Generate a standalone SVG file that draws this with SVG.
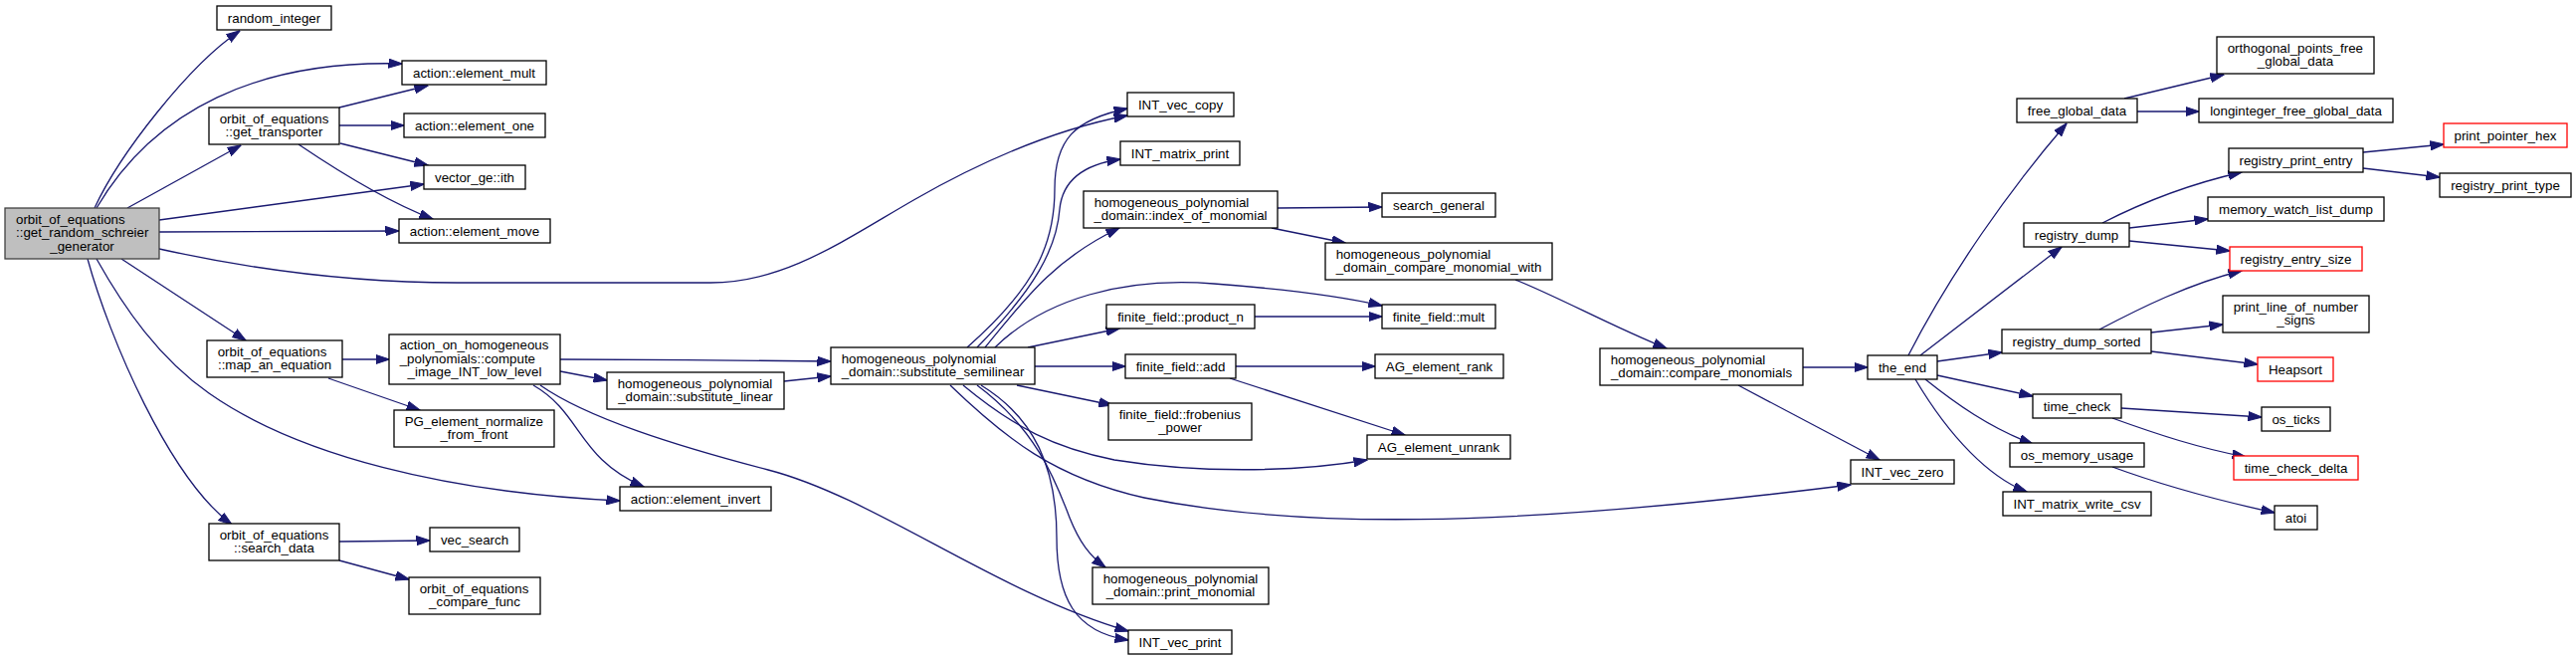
<svg xmlns="http://www.w3.org/2000/svg" width="2589" height="663" viewBox="0 0 2589 663">
<defs>
<style>
.n rect{fill:#fff;stroke:#000;stroke-width:1.3}
.n.r rect{stroke:#ff0000}
.n.m rect{fill:#bfbfbf;stroke:#404040}
text{font-family:"Liberation Sans",Arial,Helvetica,sans-serif;font-size:13.33px;fill:#000}
.c{text-anchor:middle}
.e path{fill:none;stroke:#191970;stroke-width:1.3;marker-end:url(#a)}
</style>
<marker id="a" markerUnits="userSpaceOnUse" viewBox="0 0 14 10" markerWidth="14" markerHeight="10" refX="13.5" refY="5" orient="auto"><path d="M0,0.4 L14,5 L0,9.6 z" fill="#191970" stroke="#191970" stroke-width="1"/></marker>
</defs>
<rect width="2589" height="663" fill="#fff"/>
<g class="e" id="edges">
<path d="M95,209 C120,155 190,65 241,31"/>
<path d="M97,209 C155,110 260,60 404,64"/>
<path d="M128,209 L242,146"/>
<path d="M160,221 L426,185"/>
<path d="M160,233 L401,232"/>
<path d="M160,250 C250,270 350,284 460,284 L714,284 C790,284 850,240 920,200 C990,160 1060,130 1133,116"/>
<path d="M122,260 L247,342"/>
<path d="M97,260 C125,310 160,360 210,395 C300,458 450,495 623,503"/>
<path d="M88,260 C110,340 170,480 233,527"/>
<path d="M341,108 L430,86"/>
<path d="M341,126 L406,126"/>
<path d="M342,144 L430,166"/>
<path d="M300,145 C340,172 390,203 435,220"/>
<path d="M344,361 L391,361"/>
<path d="M330,380 L422,412"/>
<path d="M341,544 L432,543"/>
<path d="M341,563 L411,582"/>
<path d="M563,361 C650,361 750,362 835,363"/>
<path d="M563,373 L610,382"/>
<path d="M536,387 C585,415 580,460 647,489"/>
<path d="M543,387 C590,420 680,448 772,472 C880,500 1000,595 1134,634"/>
<path d="M788,383 L835,378"/>
<path d="M972,349 C1045,285 1060,240 1060,190 C1060,140 1080,120 1133,109"/>
<path d="M982,349 C1040,290 1062,250 1065,210 C1068,180 1090,165 1126,160"/>
<path d="M990,349 C1030,300 1060,260 1125,229"/>
<path d="M1000,349 C1050,300 1130,278 1220,285 C1300,291 1350,298 1389,307"/>
<path d="M1033,349 L1125,330"/>
<path d="M1040,368 L1131,368"/>
<path d="M1022,387 L1118,407"/>
<path d="M968,387 C1020,430 1060,450 1120,462 C1200,475 1300,475 1374,462"/>
<path d="M955,387 C1010,440 1060,480 1150,500 C1300,530 1500,532 1860,487"/>
<path d="M982,387 C1040,430 1060,480 1075,520 C1085,545 1095,558 1111,570"/>
<path d="M986,387 C1040,420 1062,470 1062,540 C1062,600 1080,635 1134,643"/>
<path d="M1284,209 L1389,208"/>
<path d="M1278,229 L1352,244"/>
<path d="M1261,318 L1389,318"/>
<path d="M1242,368 L1382,368"/>
<path d="M1236,380 L1412,437"/>
<path d="M1523,281 C1570,300 1620,328 1675,350"/>
<path d="M1812,369 L1877,369"/>
<path d="M1747,387 L1889,462"/>
<path d="M1918,357 C1960,275 2020,190 2077,124"/>
<path d="M1930,357 L2072,248"/>
<path d="M1947,363 L2012,354"/>
<path d="M1947,377 L2043,398"/>
<path d="M1935,381 C1965,405 2000,430 2043,446"/>
<path d="M1925,381 C1960,440 2000,480 2037,494"/>
<path d="M2135,99 L2235,75"/>
<path d="M2148,112 L2210,112"/>
<path d="M2113,224 C2150,205 2200,185 2253,173"/>
<path d="M2140,229 L2219,220"/>
<path d="M2140,242 L2241,252"/>
<path d="M2375,153 L2456,145"/>
<path d="M2375,169 L2452,178"/>
<path d="M2110,331 C2150,310 2200,285 2253,272"/>
<path d="M2162,334 L2234,326"/>
<path d="M2162,353 L2269,366"/>
<path d="M2132,410 L2273,419"/>
<path d="M2123,420 C2170,437 2210,450 2257,459"/>
<path d="M2123,469 C2180,490 2240,505 2286,515"/>
</g>
<g id="main" class="n m"><rect x="5" y="209" width="155" height="51"/><text x="16" y="224.8">orbit_of_equations</text><text x="16" y="238.2">::get_random_schreier</text><text class="c" x="82.5" y="251.6">_generator</text></g>
<g id="random_integer" class="n"><rect x="218" y="6" width="115" height="24"/><text class="c" x="275.5" y="22.5">random_integer</text></g>
<g id="element_mult" class="n"><rect x="404" y="61" width="145" height="24"/><text class="c" x="476.5" y="77.5">action::element_mult</text></g>
<g id="get_transporter" class="n"><rect x="210" y="108" width="131" height="37"/><text x="220.7" y="123.8">orbit_of_equations</text><text class="c" x="275.5" y="137.2">::get_transporter</text></g>
<g id="element_one" class="n"><rect x="406" y="114" width="142" height="24"/><text class="c" x="477" y="130.5">action::element_one</text></g>
<g id="vector_ge_ith" class="n"><rect x="426" y="166" width="102" height="24"/><text class="c" x="477" y="182.5">vector_ge::ith</text></g>
<g id="element_move" class="n"><rect x="401" y="220" width="152" height="24"/><text class="c" x="477" y="236.5">action::element_move</text></g>
<g id="map_an_equation" class="n"><rect x="208" y="342" width="136" height="37"/><text x="218.7" y="357.8">orbit_of_equations</text><text class="c" x="276" y="371.2">::map_an_equation</text></g>
<g id="compute_image" class="n"><rect x="391" y="336" width="172" height="50"/><text x="401.7" y="351.3">action_on_homogeneous</text><text x="401.7" y="364.7">_polynomials::compute</text><text class="c" x="477" y="378.1">_image_INT_low_level</text></g>
<g id="pg_normalize" class="n"><rect x="396" y="412" width="161" height="37"/><text x="406.7" y="427.8">PG_element_normalize</text><text class="c" x="476.5" y="441.2">_from_front</text></g>
<g id="search_data" class="n"><rect x="210" y="526" width="131" height="37"/><text x="220.7" y="541.8">orbit_of_equations</text><text class="c" x="275.5" y="555.2">::search_data</text></g>
<g id="vec_search" class="n"><rect x="432" y="530" width="90" height="24"/><text class="c" x="477" y="546.5">vec_search</text></g>
<g id="compare_func" class="n"><rect x="411" y="580" width="132" height="37"/><text x="421.7" y="595.8">orbit_of_equations</text><text class="c" x="477" y="609.2">_compare_func</text></g>
<g id="substitute_linear" class="n"><rect x="610" y="374" width="178" height="37"/><text x="620.7" y="389.8">homogeneous_polynomial</text><text class="c" x="699" y="403.2">_domain::substitute_linear</text></g>
<g id="element_invert" class="n"><rect x="623" y="489" width="152" height="24"/><text class="c" x="699" y="505.5">action::element_invert</text></g>
<g id="substitute_semilinear" class="n"><rect x="835" y="349" width="205" height="37"/><text x="845.7" y="364.8">homogeneous_polynomial</text><text class="c" x="937.5" y="378.2">_domain::substitute_semilinear</text></g>
<g id="int_vec_copy" class="n"><rect x="1133" y="93" width="107" height="24"/><text class="c" x="1186.5" y="109.5">INT_vec_copy</text></g>
<g id="int_matrix_print" class="n"><rect x="1126" y="142" width="120" height="24"/><text class="c" x="1186" y="158.5">INT_matrix_print</text></g>
<g id="index_of_monomial" class="n"><rect x="1089" y="192" width="195" height="37"/><text x="1099.7" y="207.8">homogeneous_polynomial</text><text class="c" x="1186.5" y="221.2">_domain::index_of_monomial</text></g>
<g id="product_n" class="n"><rect x="1112" y="306" width="149" height="24"/><text class="c" x="1186.5" y="322.5">finite_field::product_n</text></g>
<g id="ff_add" class="n"><rect x="1131" y="356" width="111" height="24"/><text class="c" x="1186.5" y="372.5">finite_field::add</text></g>
<g id="frobenius" class="n"><rect x="1114" y="405" width="144" height="37"/><text x="1124.7" y="420.8">finite_field::frobenius</text><text class="c" x="1186" y="434.2">_power</text></g>
<g id="print_monomial" class="n"><rect x="1098" y="570" width="177" height="37"/><text x="1108.7" y="585.8">homogeneous_polynomial</text><text class="c" x="1186.5" y="599.2">_domain::print_monomial</text></g>
<g id="int_vec_print" class="n"><rect x="1134" y="633" width="104" height="24"/><text class="c" x="1186" y="649.5">INT_vec_print</text></g>
<g id="search_general" class="n"><rect x="1389" y="194" width="114" height="24"/><text class="c" x="1446" y="210.5">search_general</text></g>
<g id="compare_monomial_with" class="n"><rect x="1332" y="244" width="228" height="37"/><text x="1342.7" y="259.8">homogeneous_polynomial</text><text class="c" x="1446" y="273.2">_domain_compare_monomial_with</text></g>
<g id="ff_mult" class="n"><rect x="1389" y="306" width="114" height="24"/><text class="c" x="1446" y="322.5">finite_field::mult</text></g>
<g id="ag_rank" class="n"><rect x="1382" y="356" width="129" height="24"/><text class="c" x="1446.5" y="372.5">AG_element_rank</text></g>
<g id="ag_unrank" class="n"><rect x="1374" y="437" width="144" height="24"/><text class="c" x="1446" y="453.5">AG_element_unrank</text></g>
<g id="compare_monomials" class="n"><rect x="1608" y="350" width="204" height="37"/><text x="1618.7" y="365.8">homogeneous_polynomial</text><text class="c" x="1710" y="379.2">_domain::compare_monomials</text></g>
<g id="the_end" class="n"><rect x="1877" y="357" width="70" height="24"/><text class="c" x="1912" y="373.5">the_end</text></g>
<g id="int_vec_zero" class="n"><rect x="1860" y="462" width="104" height="24"/><text class="c" x="1912" y="478.5">INT_vec_zero</text></g>
<g id="free_global_data" class="n"><rect x="2027" y="99" width="121" height="24"/><text class="c" x="2087.5" y="115.5">free_global_data</text></g>
<g id="orthogonal_points" class="n"><rect x="2228" y="37" width="158" height="37"/><text x="2238.7" y="52.8">orthogonal_points_free</text><text class="c" x="2307" y="66.2">_global_data</text></g>
<g id="longinteger" class="n"><rect x="2210" y="99" width="195" height="24"/><text class="c" x="2307.5" y="115.5">longinteger_free_global_data</text></g>
<g id="print_pointer_hex" class="n r"><rect x="2456" y="124" width="124" height="24"/><text class="c" x="2518" y="140.5">print_pointer_hex</text></g>
<g id="registry_print_entry" class="n"><rect x="2240" y="149" width="135" height="24"/><text class="c" x="2307.5" y="165.5">registry_print_entry</text></g>
<g id="registry_print_type" class="n"><rect x="2452" y="174" width="132" height="24"/><text class="c" x="2518" y="190.5">registry_print_type</text></g>
<g id="memory_watch" class="n"><rect x="2219" y="198" width="177" height="24"/><text class="c" x="2307.5" y="214.5">memory_watch_list_dump</text></g>
<g id="registry_dump" class="n"><rect x="2034" y="224" width="106" height="24"/><text class="c" x="2087" y="240.5">registry_dump</text></g>
<g id="registry_entry_size" class="n r"><rect x="2241" y="248" width="133" height="24"/><text class="c" x="2307.5" y="264.5">registry_entry_size</text></g>
<g id="print_line" class="n"><rect x="2234" y="297" width="147" height="37"/><text x="2244.7" y="312.8">print_line_of_number</text><text class="c" x="2307.5" y="326.2">_signs</text></g>
<g id="registry_dump_sorted" class="n"><rect x="2012" y="331" width="150" height="24"/><text class="c" x="2087" y="347.5">registry_dump_sorted</text></g>
<g id="heapsort" class="n r"><rect x="2269" y="359" width="76" height="24"/><text class="c" x="2307" y="375.5">Heapsort</text></g>
<g id="time_check" class="n"><rect x="2043" y="396" width="89" height="24"/><text class="c" x="2087.5" y="412.5">time_check</text></g>
<g id="os_ticks" class="n"><rect x="2273" y="409" width="69" height="24"/><text class="c" x="2307.5" y="425.5">os_ticks</text></g>
<g id="os_memory_usage" class="n"><rect x="2020" y="445" width="135" height="24"/><text class="c" x="2087.5" y="461.5">os_memory_usage</text></g>
<g id="time_check_delta" class="n r"><rect x="2245" y="458" width="125" height="24"/><text class="c" x="2307.5" y="474.5">time_check_delta</text></g>
<g id="int_matrix_write_csv" class="n"><rect x="2013" y="494" width="149" height="24"/><text class="c" x="2087.5" y="510.5">INT_matrix_write_csv</text></g>
<g id="atoi" class="n"><rect x="2286" y="508" width="43" height="24"/><text class="c" x="2307.5" y="524.5">atoi</text></g>
</svg>
